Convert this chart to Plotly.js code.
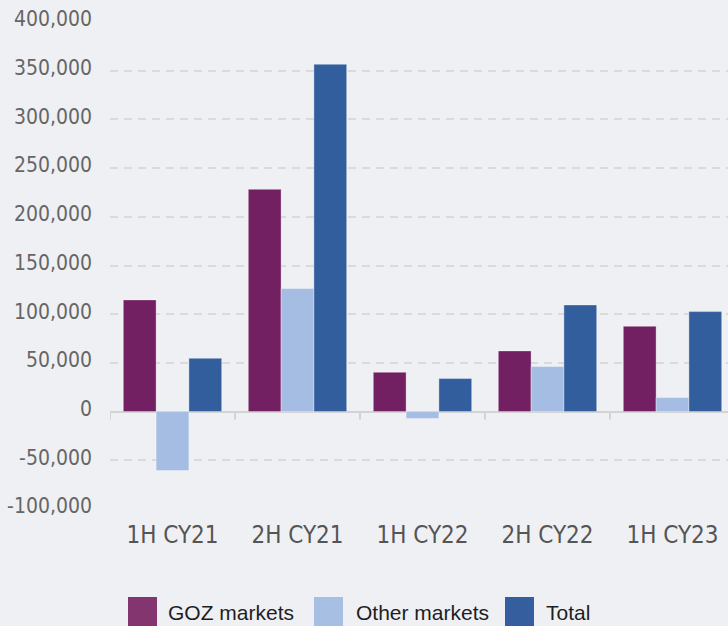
<!DOCTYPE html>
<html>
<head>
<meta charset="utf-8">
<script src="https://cdn.plot.ly/plotly-3.0.1.min.js"></script>
<style>
html,body{margin:0;padding:0;background:#eff0f4;overflow:hidden;}
#chart{width:728px;height:626px;}
</style>
</head>
<body>
<div id="chart"></div>
<script>
const categories = ['1H CY21', '2H CY21', '1H CY22', '2H CY22', '1H CY23'];
const seriesNames = ['GOZ markets', 'Other markets', 'Total'];
const gozValues = [114700, 228200, 40400, 62300, 87600];
const otherValues = [-60600, 126300, -7000, 46200, 14400];
const totalValues = [54700, 356600, 33900, 109500, 102700];
const yTickValues = [-100000, -50000, 0, 50000, 100000, 150000, 200000, 250000, 300000, 350000, 400000];
const yTickLabels = ['-100,000', '-50,000', '0', '50,000', '100,000', '150,000', '200,000', '250,000', '300,000', '350,000', '400,000'];

const barColors = ['#722062', '#a5bde3', '#335e9e'];
const legendColors = ['#833570', '#a7bfe3', '#345e9e'];
const seriesValues = [gozValues, otherValues, totalValues];

const W = 728, H = 626;
const mL = 110, mR = 0, mT = 22, mB = 117;
const pw = W - mL - mR, ph = H - mT - mB;
const px2x = p => (p - mL) / pw;
const px2y = p => (H - mB - p) / ph;
const condensed = 'DejaVu Sans Condensed, Liberation Sans Narrow, sans-serif';

const traces = seriesNames.map((name, i) => ({
  type: 'bar',
  name: name,
  x: categories,
  y: seriesValues[i],
  marker: {color: barColors[i], line: {color: 'rgba(255,255,255,0.35)', width: 1}},
  hoverinfo: 'x+y+name',
  showlegend: false
}));

const shapes = [];
for (let i = 0; i <= categories.length - 1; i++) {
  shapes.push({
    type: 'line', xref: 'x', yref: 'y', ysizemode: 'pixel', yanchor: 0,
    x0: i - 0.5, x1: i - 0.5, y0: 0, y1: -8,
    line: {color: '#d3d3d3', width: 2}
  });
}
const legendSwatchX = [128, 314, 505];
const legendTextX = [168, 356, 546];
const annotations = [];
seriesNames.forEach((name, i) => {
  shapes.push({
    type: 'rect', xref: 'paper', yref: 'paper',
    x0: px2x(legendSwatchX[i]), x1: px2x(legendSwatchX[i] + 29),
    y0: px2y(597), y1: px2y(627),
    fillcolor: legendColors[i], line: {width: 0}
  });
  annotations.push({
    xref: 'paper', yref: 'paper', x: px2x(legendTextX[i] - 2), y: px2y(612),
    xanchor: 'left', yanchor: 'middle', showarrow: false,
    text: name, font: {family: 'Liberation Sans, Arial, sans-serif', size: 21, color: '#1e1e1e'}
  });
});

const layout = {
  width: W, height: H,
  margin: {l: mL, r: mR, t: mT, b: mB, pad: 0},
  paper_bgcolor: '#eff0f4',
  plot_bgcolor: '#eff0f4',
  barmode: 'group',
  bargap: 0.213,
  bargroupgap: 0,
  showlegend: false,
  xaxis: {
    type: 'category',
    range: [-0.5, -0.5 + pw / 125],
    showgrid: false, zeroline: false, showline: false, ticks: '',
    tickfont: {family: condensed, size: 24, color: '#555555'},
    ticklabelstandoff: 9,
    fixedrange: true
  },
  yaxis: {
    range: [-100000, 400000],
    tickvals: yTickValues, ticktext: yTickLabels,
    showgrid: true, gridcolor: '#dadada', gridwidth: 2, griddash: '8px,6px',
    zeroline: true, zerolinecolor: '#d3d3d3', zerolinewidth: 2,
    showline: false, ticks: '',
    tickfont: {family: condensed, size: 21, color: '#666666'},
    ticklabelstandoff: 17,
    ticklabelshift: -3,
    fixedrange: true
  },
  shapes: shapes,
  annotations: annotations
};

Plotly.newPlot('chart', traces, layout, {displayModeBar: false, staticPlot: true});
</script>
</body>
</html>
